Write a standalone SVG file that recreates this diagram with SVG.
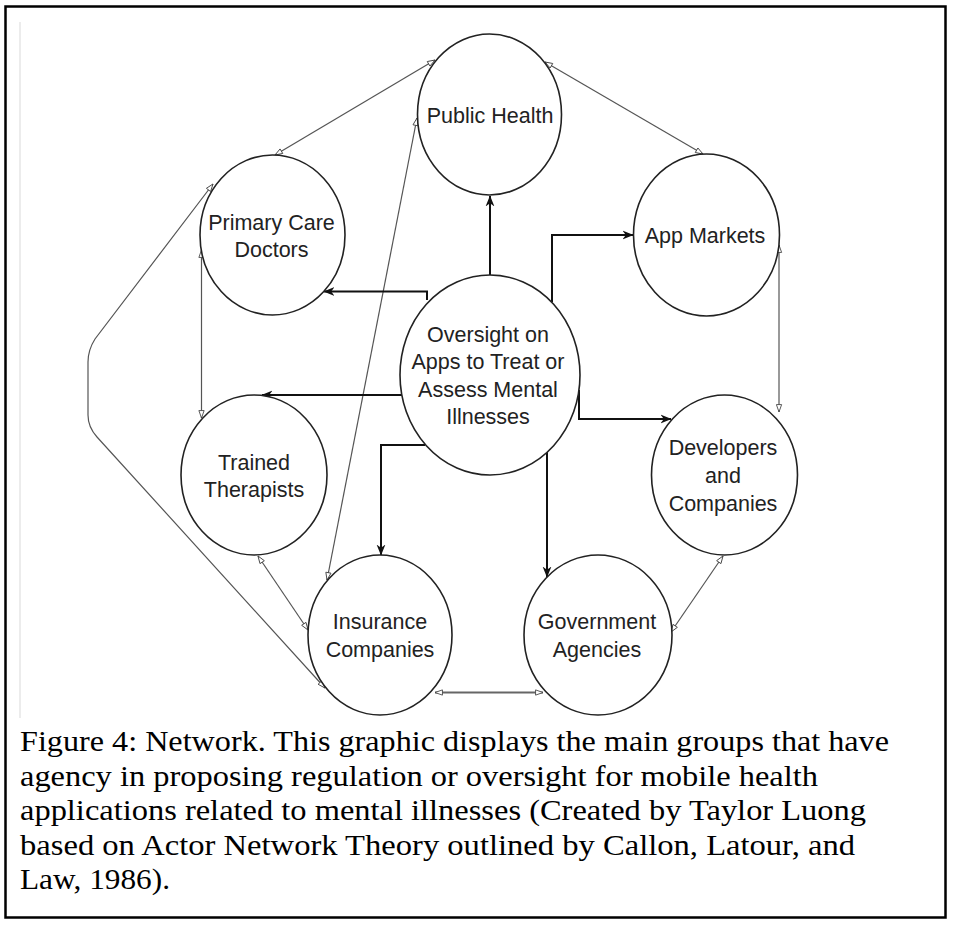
<svg xmlns="http://www.w3.org/2000/svg" width="953" height="926" viewBox="0 0 953 926">
<style>
.node{fill:#fff;stroke:#222;stroke-width:1.6}
.lbl{font-family:"Liberation Sans",Arial,sans-serif;font-size:21.5px;fill:#222;text-anchor:middle}
.thick{fill:none;stroke:#111;stroke-width:2}
.thin{fill:none;stroke:#555;stroke-width:1.2}
.cap{font-family:"Liberation Serif","Times New Roman",serif;font-size:30px;fill:#000}
</style>
<defs>
<marker id="ah" viewBox="0 0 10 10" refX="9.5" refY="5" markerWidth="11" markerHeight="11" markerUnits="userSpaceOnUse" orient="auto">
<path d="M0,1 L10,5 L0,9 L3,5 Z" fill="#111"/>
</marker>
<marker id="oh" viewBox="0 0 10 8" refX="9.5" refY="4" markerWidth="9" markerHeight="7" markerUnits="userSpaceOnUse" orient="auto-start-reverse">
<path d="M1,1 L9.5,4 L1,7 Z" fill="#fff" stroke="#444" stroke-width="1"/>
</marker>
</defs>
<rect x="0" y="0" width="953" height="926" fill="#fff"/>
<rect x="5.5" y="6.5" width="940" height="911" fill="none" stroke="#000" stroke-width="2.5"/>
<line x1="20" y1="22" x2="20" y2="718" stroke="#e6e6e6" stroke-width="1.5"/>

<g id="connectors">
<path class="thin" d="M275,155 L435,60" marker-start="url(#oh)" marker-end="url(#oh)"/>
<path class="thin" d="M545,62 L703,154" marker-start="url(#oh)" marker-end="url(#oh)"/>
<path class="thin" d="M201.5,250 L201.5,418" marker-start="url(#oh)" marker-end="url(#oh)"/>
<path class="thin" d="M325,688 L97,437 Q88,427 88,415 L88,362 Q88,350 95,339 L213,184" marker-start="url(#oh)" marker-end="url(#oh)"/>
<path class="thin" d="M258,556 L308,630" marker-start="url(#oh)" marker-end="url(#oh)"/>
<path class="thin" d="M327,580 L417,118" marker-start="url(#oh)" marker-end="url(#oh)"/>
<path class="thin" style="stroke-width:2;stroke:#666" d="M435,692.5 L543,692.5" marker-start="url(#oh)" marker-end="url(#oh)"/>
<path class="thin" d="M671,632 L723,556" marker-start="url(#oh)" marker-end="url(#oh)"/>
<path class="thin" d="M779,245 L779,412" marker-start="url(#oh)" marker-end="url(#oh)"/>

<path class="thick" d="M490,275 L490,196" marker-end="url(#ah)"/>
<path class="thick" d="M552,302 L552,235 L633,235" marker-end="url(#ah)"/>
<path class="thick" d="M579,390 L579,419 L671,419" marker-end="url(#ah)"/>
<path class="thick" d="M427,300 L427,291.5 L324,291.5" marker-end="url(#ah)"/>
<path class="thick" d="M402,395 L262,395" marker-end="url(#ah)"/>
<path class="thick" d="M425,445 L381,445 L381,555" marker-end="url(#ah)"/>
<path class="thick" d="M547,452 L547,577" marker-end="url(#ah)"/>
</g>

<g id="public-health">
<ellipse class="node" cx="489.5" cy="114.5" rx="72" ry="80.5"/>
<text class="lbl" x="490" y="123">Public Health</text>
</g>
<g id="app-markets">
<ellipse class="node" cx="706.5" cy="235" rx="73" ry="81"/>
<text class="lbl" x="705" y="243">App Markets</text>
</g>
<g id="primary-care">
<ellipse class="node" cx="272.5" cy="235" rx="72.5" ry="80"/>
<text class="lbl" x="271.5" y="230">Primary Care</text>
<text class="lbl" x="271.5" y="257">Doctors</text>
</g>
<g id="oversight">
<ellipse class="node" cx="490" cy="375" rx="90" ry="100"/>
<text class="lbl" x="488" y="341.5">Oversight on</text>
<text class="lbl" x="488" y="369">Apps to Treat or</text>
<text class="lbl" x="488" y="396.5">Assess Mental</text>
<text class="lbl" x="488" y="424">Illnesses</text>
</g>
<g id="trained-therapists">
<ellipse class="node" cx="254" cy="475" rx="73" ry="80"/>
<text class="lbl" x="254" y="470">Trained</text>
<text class="lbl" x="254" y="497">Therapists</text>
</g>
<g id="developers">
<ellipse class="node" cx="724.5" cy="475" rx="73" ry="80"/>
<text class="lbl" x="723" y="455">Developers</text>
<text class="lbl" x="723" y="483">and</text>
<text class="lbl" x="723" y="510.5">Companies</text>
</g>
<g id="insurance">
<ellipse class="node" cx="380" cy="635" rx="72" ry="80"/>
<text class="lbl" x="380" y="629">Insurance</text>
<text class="lbl" x="380" y="656.5">Companies</text>
</g>
<g id="government">
<ellipse class="node" cx="598" cy="635" rx="74" ry="80"/>
<text class="lbl" x="597" y="629">Government</text>
<text class="lbl" x="597" y="656.5">Agencies</text>
</g>

<g id="caption">
<text class="cap" x="20" y="751" textLength="869" lengthAdjust="spacingAndGlyphs">Figure 4: Network. This graphic displays the main groups that have</text>
<text class="cap" x="20" y="785.5" textLength="798" lengthAdjust="spacingAndGlyphs">agency in proposing regulation or oversight for mobile health</text>
<text class="cap" x="20" y="820" textLength="846" lengthAdjust="spacingAndGlyphs">applications related to mental illnesses (Created by Taylor Luong</text>
<text class="cap" x="20" y="854.5" textLength="835" lengthAdjust="spacingAndGlyphs">based on Actor Network Theory outlined by Callon, Latour, and</text>
<text class="cap" x="20" y="889" textLength="150" lengthAdjust="spacingAndGlyphs">Law, 1986).</text>
</g>
</svg>
